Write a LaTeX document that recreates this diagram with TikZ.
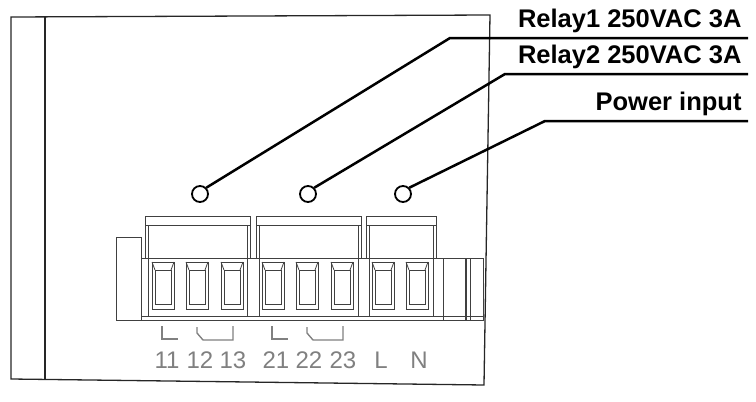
\documentclass[tikz,border=0pt]{standalone}
\usepackage{fontspec}
\setmainfont{Liberation Sans}
\begin{document}
\begin{tikzpicture}[x=1pt,y=-1pt,line width=1pt,
  ln/.style={draw=black!85,line width=1.3pt},
  thin/.style={draw=black!75,line width=0.8pt},
  lab/.style={font=\bfseries\fontsize{25.5}{28}\selectfont,anchor=south east,inner sep=0pt},
  num/.style={font=\fontsize{24}{26}\selectfont,text=black!50,inner sep=0pt},
  sym/.style={draw=black!50,line width=1.4pt}]
\useasboundingbox (0,0) rectangle (756,402);
% housing
\draw[ln] (11,17) -- (490,15) -- (484,385) -- (11,379) -- cycle;
\draw[ln] (45,17) -- (45,380);
% terminal block
\draw[thin] (116,237) rectangle (141,320);
\draw[thin] (141,258) rectangle (483,320);
\draw[thin] (141,316) -- (483,316);
\foreach \a/\b in {145/250,256/361,366/436}{
  \draw[thin] (\a,216) rectangle (\b,258);
  \draw[thin] (\a,225) -- (\b,225);
  \draw[thin] (\a+3,225) -- (\a+3,316);
  \draw[thin] (\b-3,225) -- (\b-3,316);
}
\draw[thin] (443,258) rectangle (465,320);
\draw[thin] (466,258) -- (466,320) (470,258) -- (470,320);
\foreach[count=\i] \c in {163,197,232,273,307,342,383,417}{
  \draw[thin] (\c-11,262) rectangle (\c+11,309);
  \draw[thin] (\c-8,270) rectangle (\c+8,304);
  \draw[thin] (\c-11,262) -- (\c-8,270) (\c+11,262) -- (\c+8,270);
}
% circles and leaders
\node[draw,circle,minimum size=16pt,inner sep=0pt,line width=1.8pt] (c1) at (200,194) {};
\node[draw,circle,minimum size=16pt,inner sep=0pt,line width=1.8pt] (c2) at (308,194) {};
\node[draw,circle,minimum size=16pt,inner sep=0pt,line width=1.8pt] (c3) at (403,194) {};
\coordinate (k1) at (450,38); \coordinate (e1) at (748,38);
\coordinate (k2) at (505,74); \coordinate (e2) at (748,74);
\coordinate (k3) at (545,121); \coordinate (e3) at (748,121);
\draw[line width=2.5pt] (c1.north east) -- (k1) -- (e1);
\draw[line width=2.5pt] (c2.north east) -- (k2) -- (e2);
\draw[line width=2.5pt] (c3.north east) -- (k3) -- (e3);
\node[lab] (t1) at (742,33) {Relay1 250VAC 3A};
\node[lab] (t2) at (742,69) {Relay2 250VAC 3A};
\node[lab] (t3) at (742,116) {Power input};
% contact symbols
\foreach \o in {0,110}{
  \draw[sym] (162+\o,326) -- (162+\o,339) -- (178+\o,339);
  \draw[sym] (197+\o,327) -- (197+\o,333) -- (203+\o,340) -- (233+\o,340) -- (233+\o,326);
}
\foreach \t/\x in {11/167,12/200,13/233,21/276,22/309,23/343,L/381,N/419}
  \node[num] (n\t) at (\x,360) {\t};
\end{tikzpicture}
\end{document}
